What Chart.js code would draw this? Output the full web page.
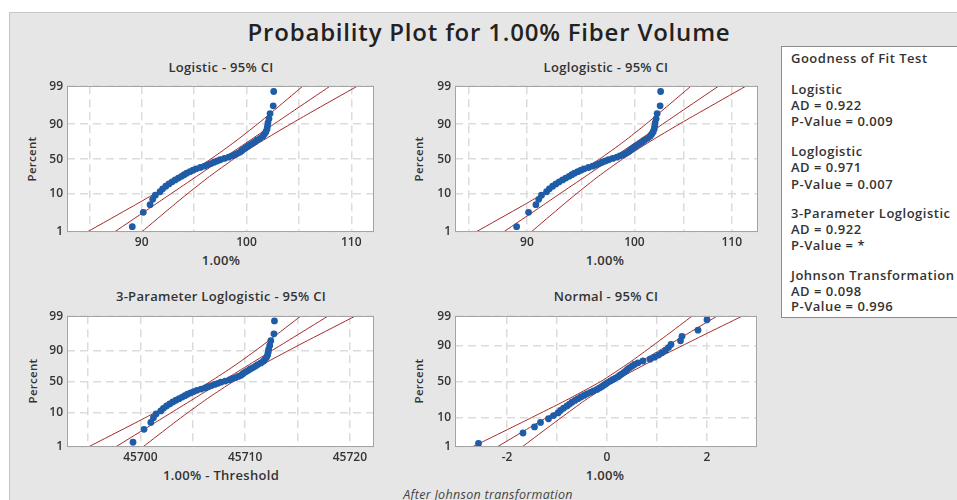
<!DOCTYPE html>
<html><head><meta charset="utf-8">
<script src="https://cdn.jsdelivr.net/npm/chart.js@4.4.0/dist/chart.umd.min.js"></script>
<style>
body{margin:0;width:957px;height:500px;overflow:hidden;background:#fff;font-family:"Open Sans",sans-serif;position:relative}
#frame{position:absolute;left:9px;top:12px;width:948px;height:488px;background:#e6e6e6;border-left:1px solid #c6c6c6;border-top:1px solid #c6c6c6}
.t{position:absolute;transform:translate(-50%,-50%);white-space:nowrap;color:#333;font-weight:600;font-size:13px;letter-spacing:0.3px}
.v{transform:translate(-50%,-50%) rotate(-90deg)}
canvas{position:absolute}
#legend{position:absolute;left:781px;top:46px;width:200px;height:270px;background:#fff;border:1px solid #8c8c8c}
.lg{position:absolute;left:791px;transform:translateY(-50%);font-size:13px;font-weight:600;color:#333;white-space:nowrap;letter-spacing:0.5px}
</style></head><body>
<div id="frame"></div>
<div class="t" style="left:489px;top:31px;font-size:24px;font-weight:600;letter-spacing:0.8px;color:#222">Probability Plot for 1.00% Fiber Volume</div>
<div class="t" style="left:221px;top:67px">Logistic - 95% CI</div>
<div class="t" style="left:606px;top:67px">Loglogistic - 95% CI</div>
<div class="t" style="left:221px;top:296px">3-Parameter Loglogistic - 95% CI</div>
<div class="t" style="left:606px;top:296px">Normal - 95% CI</div>
<div class="t" style="left:221px;top:260px">1.00%</div>
<div class="t" style="left:605px;top:260px">1.00%</div>
<div class="t" style="left:221px;top:475px">1.00% - Threshold</div>
<div class="t" style="left:605px;top:475px">1.00%</div>
<div class="t v" style="left:31px;top:159px;font-size:11.5px">Percent</div>
<div class="t v" style="left:418px;top:159px;font-size:11.5px">Percent</div>
<div class="t v" style="left:32px;top:381px;font-size:11.5px">Percent</div>
<div class="t v" style="left:418px;top:381px;font-size:11.5px">Percent</div>
<div class="t" style="left:488px;top:494px;font-size:12.5px;font-style:italic;font-weight:400;color:#444">After Johnson transformation</div>
<div id="legend"></div>
<div class="lg" style="top:58px">Goodness of Fit Test</div>
<div class="lg" style="top:89px">Logistic</div>
<div class="lg" style="top:105px">AD = 0.922</div>
<div class="lg" style="top:121px">P-Value = 0.009</div>
<div class="lg" style="top:151px">Loglogistic</div>
<div class="lg" style="top:167px">AD = 0.971</div>
<div class="lg" style="top:184px">P-Value = 0.007</div>
<div class="lg" style="top:213px">3-Parameter Loglogistic</div>
<div class="lg" style="top:229px">AD = 0.922</div>
<div class="lg" style="top:245px">P-Value = *</div>
<div class="lg" style="top:275px">Johnson Transformation</div>
<div class="lg" style="top:291px">AD = 0.098</div>
<div class="lg" style="top:306px">P-Value = 0.996</div>
<script>
// ---- data ----
const PCT_TICKS = [1, 10, 50, 90, 99];
const PERCENT = [1.39,3.37,5.36,7.34,9.33,11.31,13.29,15.28,17.26,19.25,21.23,23.21,25.20,27.18,29.17,31.15,33.13,35.12,37.10,39.09,41.07,43.06,45.04,47.02,49.01,50.99,52.98,54.96,56.94,58.93,60.91,62.90,64.88,66.87,68.85,70.83,72.82,74.80,76.79,78.77,80.75,82.74,84.72,86.71,88.69,90.67,92.66,94.64,96.63,98.61];
const FIBER_VOLUME = [89.1,90.15,90.8,91.05,91.3,91.75,92.0,92.3,92.6,92.9,93.2,93.5,93.8,94.05,94.3,94.6,94.9,95.2,95.6,96.0,96.3,96.6,96.9,97.2,97.5,97.9,98.3,98.6,98.9,99.15,99.4,99.55,99.7,99.9,100.1,100.3,100.55,100.8,101.0,101.3,101.55,101.7,101.85,101.95,102.0,102.05,102.15,102.25,102.55,102.6];
const JOHNSON = [-2.57,-1.68,-1.45,-1.33,-1.17,-1.07,-0.98,-0.93,-0.87,-0.80,-0.75,-0.70,-0.64,-0.58,-0.52,-0.46,-0.40,-0.33,-0.27,-0.20,-0.15,-0.10,-0.06,-0.02,0.02,0.07,0.12,0.17,0.22,0.26,0.30,0.34,0.38,0.41,0.45,0.50,0.55,0.62,0.72,0.86,0.95,1.03,1.10,1.17,1.23,1.28,1.47,1.50,1.82,2.00];
const THRESHOLD = -45610.2;
const CI_PCT = [1,5,10,25,50,75,90,95,99];
const LOGISTIC_FIT = [87.39,91.09,92.76,95.22,97.68,100.14,102.60,104.27,107.97];
const LOGISTIC_LO  = [84.79,89.22,91.19,93.98,96.58,98.90,101.03,102.40,105.37];
const LOGISTIC_HI  = [89.99,92.96,94.34,96.46,98.78,101.38,104.18,106.14,110.57];
const LOGLOG_FIT = [87.96,91.35,92.92,95.30,97.73,100.22,102.78,104.55,108.58];
const LOGLOG_LO  = [85.61,89.60,91.42,94.09,96.63,98.96,101.12,102.54,105.69];
const LOGLOG_HI  = [90.37,93.14,94.45,96.51,98.84,101.51,104.47,106.60,111.53];
const LL3_FIT = [45697.63,45701.27,45702.92,45705.34,45707.76,45710.18,45712.60,45714.25,45717.89];
const LL3_LO  = [45695.03,45699.40,45701.35,45704.10,45706.66,45708.94,45711.03,45712.38,45715.29];
const LL3_HI  = [45700.23,45703.14,45704.50,45706.58,45708.86,45711.42,45714.18,45716.12,45720.49];
const NORMAL_FIT = [-2.20,-1.556,-1.212,-0.638,0,0.638,1.212,1.556,2.20];
const NORMAL_LO  = [-2.70,-1.92,-1.51,-0.83,-0.13,0.447,0.916,1.191,1.70];
const NORMAL_HI  = [-1.70,-1.191,-0.916,-0.447,0.13,0.83,1.51,1.92,2.70];
const X_GRID_1 = [85,90,95,100,105,110], X_LAB_1 = [90,100,110];
const X_GRID_3 = [45695,45700,45705,45710,45715,45720], X_LAB_3 = [45700,45710,45720];
const X_GRID_4 = [-2,-1,0,1,2], X_LAB_4 = [-2,0,2];

// ---- probability transforms ----
const logit = p => { const q = p/100; return Math.log(q/(1-q)); };
function probit(pp){
  const p = pp/100;
  const a=[-3.969683028665376e+01,2.209460984245205e+02,-2.759285104469687e+02,1.383577518672690e+02,-3.066479806614716e+01,2.506628277459239e+00];
  const b=[-5.447609879822406e+01,1.615858368580409e+02,-1.556989798598866e+02,6.680131188771972e+01,-1.328068155288572e+01];
  const c=[-7.784894002430293e-03,-3.223964580411365e-01,-2.400758277161838e+00,-2.549732539343734e+00,4.374664141464968e+00,2.938163982698783e+00];
  const d=[7.784695709041462e-03,3.224671290700398e-01,2.445134137142996e+00,3.754408661907416e+00];
  const pl=0.02425, ph=1-pl; let q,r;
  if(p<pl){q=Math.sqrt(-2*Math.log(p));return (((((c[0]*q+c[1])*q+c[2])*q+c[3])*q+c[4])*q+c[5])/((((d[0]*q+d[1])*q+d[2])*q+d[3])*q+1);}
  if(p<=ph){q=p-0.5;r=q*q;return (((((a[0]*r+a[1])*r+a[2])*r+a[3])*r+a[4])*r+a[5])*q/(((((b[0]*r+b[1])*r+b[2])*r+b[3])*r+b[4])*r+1);}
  q=Math.sqrt(-2*Math.log(1-p));return -(((((c[0]*q+c[1])*q+c[2])*q+c[3])*q+c[4])*q+c[5])/((((d[0]*q+d[1])*q+d[2])*q+d[3])*q+1);
}

// ---- styling ----
const BLUE='#1f5ca8', RED='#a52a2a', GRID='#dcdcdc', TXT='#333';
const FONT={family:'"Open Sans", sans-serif', size:12, weight:'600'};
const AXW=50, PADT=10, PADR=10, XAH=20;

const framePlugin={id:'frame',
  beforeDraw(c){const a=c.chartArea,x=c.ctx;x.save();x.fillStyle='#fff';x.fillRect(a.left,a.top,a.right-a.left,a.bottom-a.top);x.restore();},
  afterDraw(c){const a=c.chartArea,x=c.ctx;x.save();x.strokeStyle='#a4a4a4';x.lineWidth=1;x.strokeRect(Math.round(a.left)+0.5,Math.round(a.top)+0.5,Math.round(a.right-a.left)-1,Math.round(a.bottom-a.top)-1);x.restore();}
};

function yAxis(tf){
  return {type:'linear', min:tf(PCT_TICKS[0]), max:tf(PCT_TICKS[PCT_TICKS.length-1]),
    afterBuildTicks:s=>{s.ticks=PCT_TICKS.map(p=>({value:tf(p)}));},
    afterFit:s=>{s.width=AXW;},
    ticks:{callback:(v,i)=>String(PCT_TICKS[i]), font:FONT, color:TXT, padding:4, autoSkip:false},
    grid:{color:GRID, lineWidth:1.5, drawTicks:false},
    border:{display:false, dash:[8,5]}};
}
function xAxis(type,min,max,gridVals,labVals){
  return {type, min, max,
    afterBuildTicks:s=>{s.ticks=gridVals.map(v=>({value:v}));},
    afterFit:s=>{s.height=XAH;},
    ticks:{autoSkip:false, maxRotation:0, minRotation:0, font:FONT, color:TXT, padding:3,
      callback:(v,i)=>labVals.includes(gridVals[i])?String(gridVals[i]):''},
    grid:{color:GRID, lineWidth:1.5, drawTicks:false},
    border:{display:false, dash:[8,5]}};
}
function pts(xs, ps, tf){ return xs.map((v,i)=>({x:v, y:tf(ps[i])})); }

function panel(g, xOpts, tf, points, lines){
  const cv=document.createElement('canvas');
  const w=g.R-g.L+AXW+PADR, h=g.B-g.T+PADT+XAH;
  cv.width=w; cv.height=h; cv.style.width=w+'px'; cv.style.height=h+'px';
  cv.style.left=(g.L-AXW)+'px'; cv.style.top=(g.T-PADT)+'px';
  document.body.appendChild(cv);
  const datasets=[{data:points, showLine:false, pointRadius:3.4, pointBackgroundColor:BLUE, pointBorderColor:BLUE, pointBorderWidth:0}];
  lines.forEach(l=>datasets.push({data:pts(l,CI_PCT,tf), showLine:true, pointRadius:0, borderColor:RED, borderWidth:1, tension:0.2}));
  new Chart(cv,{type:'scatter', data:{datasets},
    options:{responsive:false, animation:false, devicePixelRatio:1,
      layout:{padding:{top:PADT,right:PADR,left:0,bottom:0}},
      plugins:{legend:{display:false}, tooltip:{enabled:false}},
      scales:{x:xOpts, y:yAxis(tf)}},
    plugins:[framePlugin]});
}

panel({L:67,R:374,T:85,B:232}, xAxis('linear',82.87,112.17,X_GRID_1,X_LAB_1), logit,
  pts(FIBER_VOLUME,PERCENT,logit), [LOGISTIC_LO,LOGISTIC_FIT,LOGISTIC_HI]);
panel({L:455,R:758,T:85,B:232}, xAxis('logarithmic',83.88,112.87,X_GRID_1,X_LAB_1), logit,
  pts(FIBER_VOLUME,PERCENT,logit), [LOGLOG_LO,LOGLOG_FIT,LOGLOG_HI]);
panel({L:67,R:374,T:315,B:447}, xAxis('linear',45693.0,45722.3,X_GRID_3,X_LAB_3), logit,
  pts(FIBER_VOLUME.map(v=>v-THRESHOLD),PERCENT,logit), [LL3_LO,LL3_FIT,LL3_HI]);
panel({L:455,R:757,T:315,B:447}, xAxis('linear',-3.04,3.0,X_GRID_4,X_LAB_4), probit,
  pts(JOHNSON,PERCENT,probit), [NORMAL_LO,NORMAL_FIT,NORMAL_HI]);
</script>
</body></html>
